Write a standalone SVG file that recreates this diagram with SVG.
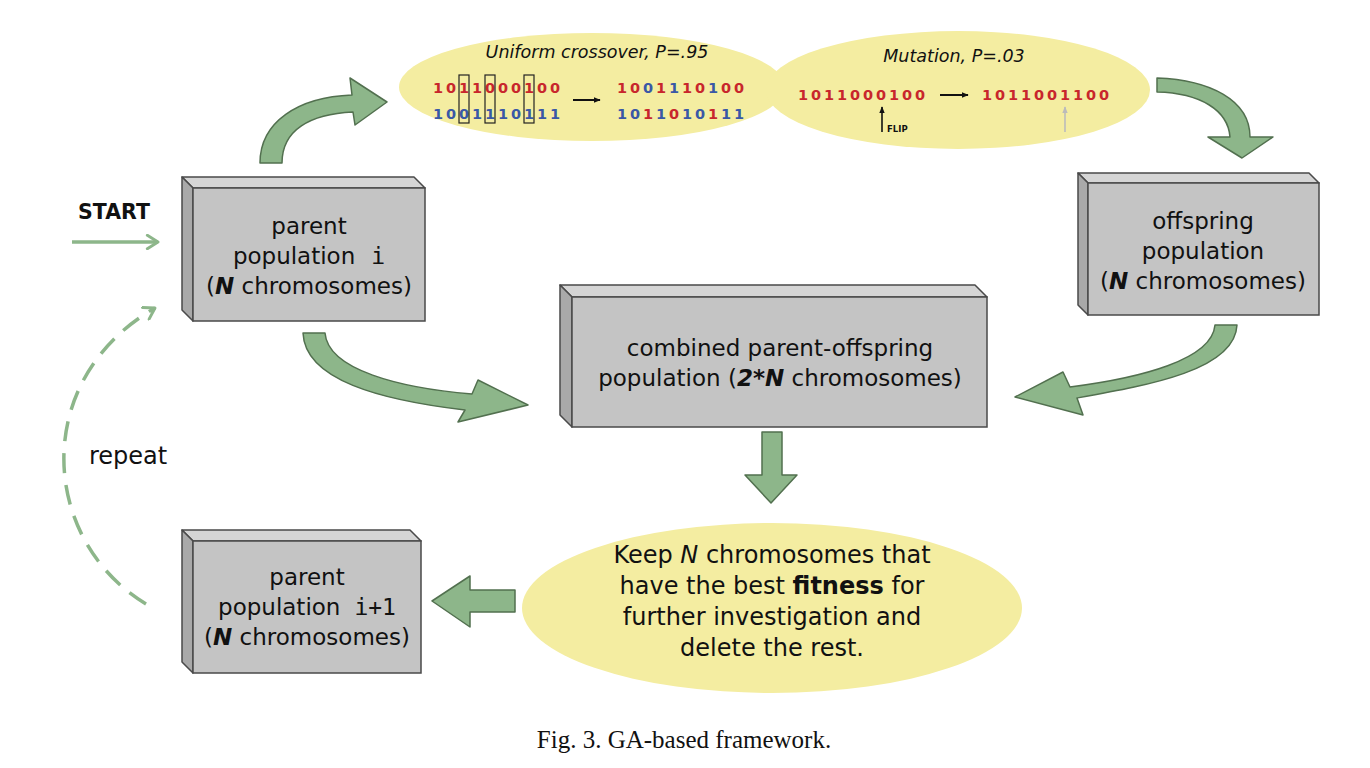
<svg xmlns="http://www.w3.org/2000/svg" width="1370" height="768" viewBox="0 0 1370 768">
<style>
.top{fill:#d5d5d5;stroke:#4a4a4a;stroke-width:1.5;stroke-linejoin:round}
.side{fill:#a9a9a9;stroke:#4a4a4a;stroke-width:1.5;stroke-linejoin:round}
.front{fill:#c4c4c4;stroke:#4a4a4a;stroke-width:1.5}
.bt{font-family:"DejaVu Sans",Verdana,sans-serif;font-size:23px;fill:#111;text-anchor:middle}
.et{font-family:"DejaVu Sans",Verdana,sans-serif;font-size:24px;fill:#111;text-anchor:middle}
.mono{font-family:"DejaVu Sans Mono","Liberation Mono",monospace}
.bi{font-weight:bold;font-style:italic}
.ell{fill:#f4eda1}
.garrow{fill:#8db68a;stroke:#52704f;stroke-width:1.5;stroke-linejoin:round}
.hdr{font-family:"DejaVu Sans",Verdana,sans-serif;font-size:17.5px;font-style:italic;fill:#111;text-anchor:middle}
.bits{font-family:"DejaVu Sans",Verdana,sans-serif;font-size:14.5px;font-weight:bold;text-anchor:middle}
.r{fill:#c8262c}
.b{fill:#3a58a6}
.sel{fill:none;stroke:#222;stroke-width:1.2}
</style>
<defs>
<marker id="blk" viewBox="0 0 10 10" refX="9" refY="5" markerWidth="7" markerHeight="7" orient="auto" markerUnits="userSpaceOnUse">
<path d="M0,1 L10,5 L0,9 Z" fill="#111"/>
</marker>
<marker id="gry" viewBox="0 0 10 10" refX="9" refY="5" markerWidth="7" markerHeight="7" orient="auto" markerUnits="userSpaceOnUse">
<path d="M0,1 L10,5 L0,9 Z" fill="#bbb"/>
</marker>
<marker id="chev" viewBox="0 0 12 12" refX="10" refY="6" markerWidth="16" markerHeight="16" orient="auto" markerUnits="userSpaceOnUse">
<path d="M2,1 L10,6 L2,11" fill="none" stroke="#8db68a" stroke-width="2.2" stroke-linecap="round" stroke-linejoin="round"/>
</marker>
</defs>
<rect width="1370" height="768" fill="#fff"/>

<g id="crossover">
<ellipse class="ell" cx="592" cy="87" rx="193" ry="54"/>
<text class="hdr" x="597" y="58">Uniform crossover, <tspan>P</tspan>=.95</text>
<text class="bits" x="438 451 464 477 490 503 516 529 542 555" y="93"><tspan class="r">1011000100</tspan></text>
<text class="bits" x="438 451 464 477 490 503 516 529 542 555" y="119"><tspan class="b">1001110111</tspan></text>
<rect class="sel" x="459" y="75" width="10" height="48"/>
<rect class="sel" x="485" y="75" width="10" height="48"/>
<rect class="sel" x="524" y="75" width="10" height="48"/>
<line x1="573" y1="100" x2="600" y2="100" stroke="#111" stroke-width="2" marker-end="url(#blk)"/>
<text class="bits" x="622 635 648 661 674 687 700 713 726 739" y="93"><tspan class="r">10</tspan><tspan class="b">0</tspan><tspan class="r">1</tspan><tspan class="b">1</tspan><tspan class="r">10</tspan><tspan class="b">1</tspan><tspan class="r">00</tspan></text>
<text class="bits" x="622 635 648 661 674 687 700 713 726 739" y="119"><tspan class="b">10</tspan><tspan class="r">1</tspan><tspan class="b">1</tspan><tspan class="r">0</tspan><tspan class="b">10</tspan><tspan class="r">1</tspan><tspan class="b">11</tspan></text>
</g>

<g id="mutation">
<ellipse class="ell" cx="958" cy="90" rx="192" ry="59"/>
<text class="hdr" x="954" y="62">Mutation, P=.03</text>
<text class="bits r" x="803 816 829 842 855 868 881 894 907 920" y="100">1011000100</text>
<line x1="940" y1="95" x2="968" y2="95" stroke="#111" stroke-width="2" marker-end="url(#blk)"/>
<text class="bits r" x="987 1000 1013 1026 1039 1052 1065 1078 1091 1104" y="100">1011001100</text>
<line x1="882" y1="132" x2="882" y2="107" stroke="#111" stroke-width="1.6" marker-end="url(#blk)"/>
<text x="887" y="132" font-family="DejaVu Sans,sans-serif" font-size="8.5" font-weight="bold" fill="#111">FLIP</text>
<line x1="1065" y1="132" x2="1065" y2="107" stroke="#bbb" stroke-width="1.6" marker-end="url(#gry)"/>
</g>

<g id="parent-i">
<polygon class="top" points="182,177 414,177 425,188 193,188"/>
<polygon class="side" points="182,177 193,188 193,321 182,310"/>
<rect class="front" x="193" y="188" width="232" height="133"/>
<text class="bt" x="309" y="234">parent</text>
<text class="bt" x="309" y="264">population<tspan class="mono" dx="16">i</tspan></text>
<text class="bt" x="309" y="294">(<tspan class="bi">N</tspan> chromosomes)</text>
</g>

<g id="offspring">
<polygon class="top" points="1078,173 1309,173 1319,183 1088,183"/>
<polygon class="side" points="1078,173 1088,183 1088,315 1078,305"/>
<rect class="front" x="1088" y="183" width="231" height="132"/>
<text class="bt" x="1203" y="229">offspring</text>
<text class="bt" x="1203" y="259">population</text>
<text class="bt" x="1203" y="289">(<tspan class="bi">N</tspan> chromosomes)</text>
</g>

<g id="combined">
<polygon class="top" points="560,285 975,285 987,297 572,297"/>
<polygon class="side" points="560,285 572,297 572,427 560,415"/>
<rect class="front" x="572" y="297" width="415" height="130"/>
<text class="bt" x="780" y="356">combined parent-offspring</text>
<text class="bt" x="780" y="386">population (<tspan class="bi">2*N</tspan> chromosomes)</text>
</g>

<g id="select">
<ellipse class="ell" cx="772" cy="608" rx="250" ry="85"/>
<text class="et" x="772" y="563">Keep <tspan font-style="italic">N</tspan>  chromosomes that</text>
<text class="et" x="772" y="594">have the best <tspan font-weight="bold">fitness</tspan> for</text>
<text class="et" x="772" y="625">further investigation and</text>
<text class="et" x="772" y="656">delete the rest.</text>
</g>

<g id="parent-i1">
<polygon class="top" points="182,530 410,530 421,541 193,541"/>
<polygon class="side" points="182,530 193,541 193,673 182,662"/>
<rect class="front" x="193" y="541" width="228" height="132"/>
<text class="bt" x="307" y="585">parent</text>
<text class="bt" x="307" y="615">population<tspan class="mono" dx="14">i+1</tspan></text>
<text class="bt" x="307" y="645">(<tspan class="bi">N</tspan> chromosomes)</text>
</g>

<g id="start">
<text x="78" y="219" font-family="DejaVu Sans,sans-serif" font-size="20.5" font-weight="bold" fill="#111">START</text>
</g>

<g id="connectors">
<line x1="72" y1="242" x2="158" y2="242" stroke="#8db68a" stroke-width="3.5" marker-end="url(#chev)"/>
<path d="M146,604 C40,540 30,380 155,308" fill="none" stroke="#8db68a" stroke-width="3.5" stroke-dasharray="20 12" marker-end="url(#chev)"/>
<path class="garrow" d="M260,163 C260,122 298,97 352,95 L350,78 L387,102 L355,125 L353,112 C310,114 282,130 282,163 Z"/>
<path class="garrow" d="M1157,78 C1210,80 1250,100 1250,137 L1273,137 L1242,158 L1208,137 L1230,137 C1228,110 1200,93 1157,92 Z"/>
<path class="garrow" d="M303,333 C305,380 380,400 465,410 L458,422 L528,405 L478,380 L472,394 C400,388 328,370 325,333 Z"/>
<path class="garrow" d="M1237,325 C1235,370 1150,385 1077,398 L1083,415 L1015,397 L1063,372 L1070,387 C1140,378 1212,360 1215,325 Z"/>
<path class="garrow" d="M762,432 L782,432 L782,475 L797,475 L771,503 L745,475 L762,475 Z"/>
<path class="garrow" d="M515,590 L515,612 L470,612 L470,627 L432,601 L470,576 L470,590 Z"/>
</g>
<text x="89" y="464" font-family="DejaVu Sans,sans-serif" font-size="24" fill="#111">repeat</text>
<text x="684" y="748" font-family="Liberation Serif,serif" font-size="25" fill="#111" text-anchor="middle">Fig. 3. GA-based framework.</text>
</svg>
